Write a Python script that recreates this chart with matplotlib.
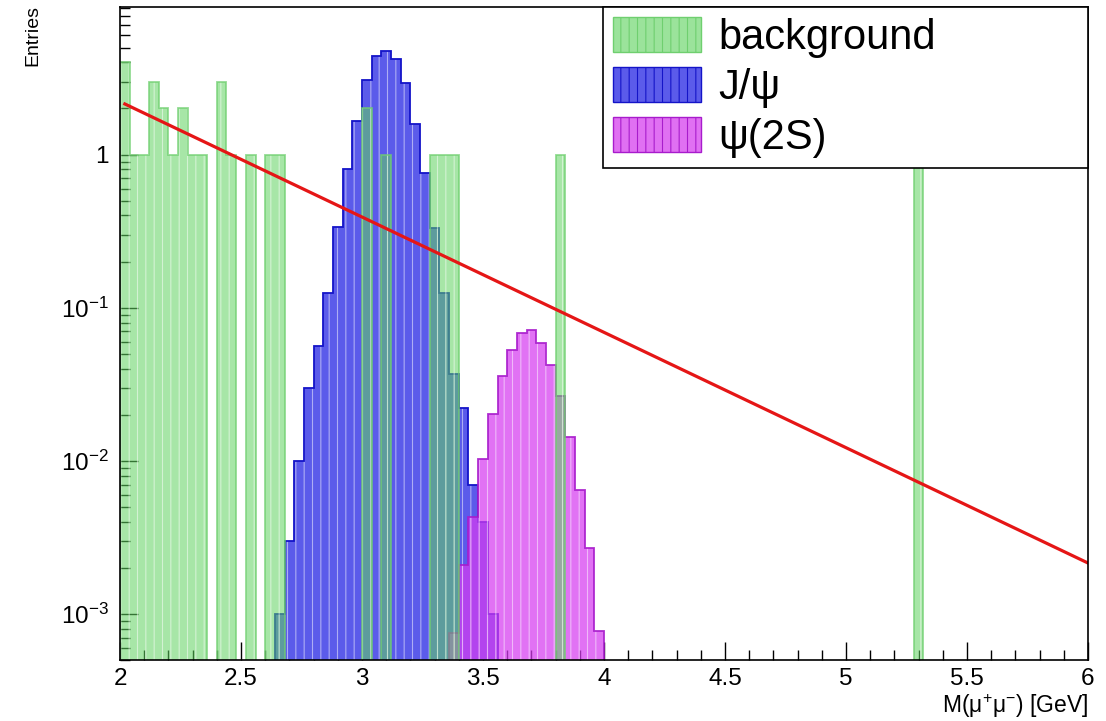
import numpy as np
import matplotlib.pyplot as plt
from matplotlib.patches import Patch
from matplotlib.ticker import MultipleLocator, LogLocator, FuncFormatter, NullFormatter

plt.rcParams['font.family'] = ['Liberation Sans', 'DejaVu Sans']
plt.rcParams['mathtext.fontset'] = 'custom'
plt.rcParams['mathtext.rm'] = 'Liberation Sans'
plt.rcParams['mathtext.it'] = 'Liberation Sans:italic'
plt.rcParams['hatch.linewidth'] = 0.8

# 100 bins of 40 MeV between 2 and 6 GeV
edges = np.linspace(2.0, 6.0, 101)

# background: lower bin edge -> entries
bkg_low = [2.00, 2.04, 2.08, 2.12, 2.16, 2.20, 2.24, 2.28, 2.32, 2.40, 2.44,
           2.52, 2.60, 2.64, 3.00, 3.08, 3.28, 3.32, 3.36, 3.80, 5.28]
bkg_n = [4, 1, 1, 3, 2, 1, 2, 1, 1, 3, 1,
         1, 1, 1, 2, 1, 1, 1, 1, 1, 1]

# J/psi, weighted, bins from 2.64 GeV
jpsi_first = 2.64
jpsi_w = [0.0010, 0.0030, 0.0099, 0.030, 0.056, 0.124, 0.335, 0.81, 1.65,
          3.05, 4.37, 4.73, 4.22, 2.92, 1.59, 0.755, 0.33, 0.124, 0.037,
          0.022, 0.0069, 0.0040, 0.0010]

# psi(2S), weighted, bins from 3.36 GeV
psi2s_first = 3.36
psi2s_w = [0.00075, 0.0021, 0.0043, 0.0102, 0.0203, 0.036, 0.053, 0.068,
           0.071, 0.059, 0.042, 0.0266, 0.0142, 0.0064, 0.0027, 0.00077]

# exponential background fit, end points
fit_x = [2.02, 6.0]
fit_y = [2.14, 0.00215]


def fill_bins(first_edges, weights):
    h = np.zeros(len(edges) - 1)
    for lo, w in zip(first_edges, weights):
        h[int(round((lo - 2.0) / 0.04))] += w
    return h


bkg = fill_bins(bkg_low, bkg_n)
jpsi = fill_bins(jpsi_first + 0.04 * np.arange(len(jpsi_w)), jpsi_w)
psi2s = fill_bins(psi2s_first + 0.04 * np.arange(len(psi2s_w)), psi2s_w)

fig = plt.figure(figsize=(11.06, 7.21), dpi=100)
ax = fig.add_axes([0.1085, 0.0846, 0.8752, 0.9057])

FLOOR = 1e-9


def draw_hist(vals, face, edge, alpha, z):
    v = np.where(vals > 0, vals, FLOOR)
    ax.stairs(v, edges, baseline=FLOOR, fill=True, facecolor=face,
              edgecolor='none', alpha=alpha, zorder=z)
    ax.stairs(v, edges, baseline=FLOOR, fill=True, facecolor='none',
              edgecolor='white', hatch='||', linewidth=0, alpha=0.5, zorder=z)
    ax.stairs(v, edges, baseline=FLOOR, color=edge, linewidth=1.3,
              alpha=min(1, alpha + 0.2), zorder=z + 0.1)


green_face, green_edge = '#5fd35f', '#6fcf6f'
blue_face, blue_edge = '#5b5bea', '#1414c8'
mag_face, mag_edge = '#d63cf0', '#a81ccc'

draw_hist(jpsi, blue_face, blue_edge, 1.0, 2)
draw_hist(psi2s, mag_face, mag_edge, 0.72, 3)
draw_hist(bkg, green_face, green_edge, 0.55, 4)

ax.plot(fit_x, fit_y, color='#e51616', lw=2.3, zorder=6)

ax.set_xlim(2, 6)
ax.set_ylim(5e-4, 9.2)
ax.set_yscale('log')

ax.xaxis.set_major_locator(MultipleLocator(0.5))
ax.xaxis.set_minor_locator(MultipleLocator(0.1))
ax.xaxis.set_major_formatter(FuncFormatter(lambda v, p: f'{v:g}'))
ax.yaxis.set_major_locator(LogLocator(base=10))
ax.yaxis.set_minor_locator(LogLocator(base=10, subs=np.arange(2, 10)))
ax.yaxis.set_minor_formatter(NullFormatter())


def log_label(v, p):
    e = int(round(np.log10(v)))
    return '1' if e == 0 else rf'$10^{{{e}}}$'


ax.yaxis.set_major_formatter(FuncFormatter(log_label))
ax.tick_params(which='both', direction='in', top=False, right=False,
               labelsize=17.5, width=1)
ax.tick_params(which='major', length=13)
ax.tick_params(axis='x', which='major', pad=6)
ax.tick_params(axis='y', which='major', pad=8)
ax.tick_params(which='minor', length=7)
for s in ax.spines.values():
    s.set_linewidth(1.2)
    s.set_zorder(7)

handles = [Patch(facecolor='#9be39b', edgecolor=green_edge, hatch='||'),
           Patch(facecolor=blue_face, edgecolor=blue_edge, hatch='||'),
           Patch(facecolor='#e070f2', edgecolor=mag_edge, hatch='||')]
leg = ax.legend(handles, ['background', r'J/ψ', r'ψ(2S)'],
                loc='upper left', bbox_to_anchor=(0.499, 0.75, 0.501, 0.25),
                mode='expand', borderaxespad=0, fontsize=30,
                handlelength=2.1, handleheight=0.92, handletextpad=0.42,
                labelspacing=0.22, borderpad=0.24, fancybox=False,
                framealpha=1, edgecolor='black')
leg.get_frame().set_linewidth(1.2)
leg.set_zorder(10)

fig.text(0.030, 0.993, 'Entries', rotation=90, ha='center', va='top',
         fontsize=14)
fig.text(0.9837, 0.001, r'M(μ$^{+}$μ$^{-}$) [GeV]', ha='right',
         va='bottom', fontsize=16.5)

fig.savefig('out.png', dpi=100)
